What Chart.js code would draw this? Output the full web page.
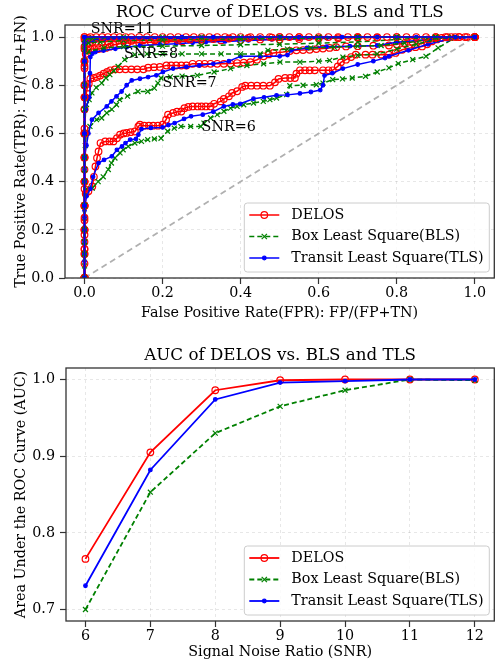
<!DOCTYPE html>
<html>
<head>
<meta charset="utf-8">
<script src="https://cdn.jsdelivr.net/npm/chart.js@4.4.1/dist/chart.umd.min.js"></script>
<style>
  body { margin: 0; background: #fff; }
  .box { position: absolute; left: 0; width: 499px; }
</style>
</head>
<body>
<div class="box" style="top:0;height:325px"><canvas id="roc"></canvas></div>
<div class="box" style="top:330px;height:332px"><canvas id="auc"></canvas></div>
<script>
// ---- ROC curves, [fpr, tpr] ----
const delos6 = [[0,0],[0,0.06],[0,0.12],[0,0.18],[0,0.24],[0,0.3],[0.003,0.35],[0.01,0.36],[0.02,0.38],[0.024,0.42],[0.028,0.463],[0.032,0.498],[0.036,0.525],[0.041,0.56],[0.053,0.567],[0.064,0.567],[0.074,0.567],[0.083,0.58],[0.091,0.595],[0.1,0.6],[0.108,0.602],[0.118,0.605],[0.129,0.608],[0.138,0.629],[0.142,0.636],[0.153,0.632],[0.165,0.632],[0.176,0.632],[0.188,0.632],[0.2,0.636],[0.209,0.657],[0.214,0.678],[0.227,0.685],[0.237,0.69],[0.248,0.691],[0.256,0.705],[0.266,0.71],[0.277,0.712],[0.29,0.712],[0.3,0.712],[0.311,0.712],[0.323,0.712],[0.332,0.723],[0.349,0.733],[0.357,0.743],[0.37,0.754],[0.378,0.768],[0.391,0.775],[0.404,0.793],[0.412,0.798],[0.427,0.798],[0.442,0.798],[0.458,0.798],[0.475,0.798],[0.488,0.812],[0.497,0.826],[0.514,0.83],[0.527,0.83],[0.539,0.83],[0.543,0.848],[0.552,0.862],[0.565,0.862],[0.577,0.862],[0.59,0.862],[0.611,0.862],[0.625,0.862],[0.636,0.862],[0.649,0.878],[0.657,0.895],[0.67,0.906],[0.683,0.917],[0.695,0.927],[0.72,0.927],[0.738,0.927],[0.76,0.927],[0.78,0.927],[0.797,0.934],[0.814,0.947],[0.831,0.954],[0.848,0.958],[0.865,0.961],[0.878,0.97],[0.89,0.982],[0.903,0.99],[0.915,0.996],[0.94,1],[0.96,1],[0.98,1],[1,1]];
const bls6 = [[0,0],[0,0.05],[0,0.1],[0,0.15],[0,0.2],[0,0.25],[0,0.3],[0.005,0.37],[0.02,0.373],[0.035,0.4],[0.048,0.42],[0.061,0.45],[0.069,0.477],[0.078,0.498],[0.091,0.519],[0.099,0.532],[0.112,0.546],[0.129,0.56],[0.146,0.567],[0.162,0.574],[0.179,0.577],[0.196,0.58],[0.213,0.609],[0.23,0.622],[0.247,0.629],[0.272,0.629],[0.298,0.629],[0.306,0.643],[0.323,0.664],[0.34,0.678],[0.357,0.692],[0.374,0.705],[0.391,0.712],[0.408,0.719],[0.433,0.726],[0.458,0.733],[0.475,0.74],[0.492,0.747],[0.518,0.761],[0.526,0.798],[0.56,0.8],[0.594,0.802],[0.611,0.809],[0.636,0.823],[0.661,0.826],[0.686,0.83],[0.72,0.837],[0.75,0.855],[0.78,0.872],[0.804,0.89],[0.841,0.906],[0.875,0.92],[0.906,0.955],[0.948,0.996],[1,1]];
const tls6 = [[0,0],[0,0.07],[0,0.14],[0,0.21],[0,0.28],[0.005,0.339],[0.015,0.37],[0.022,0.42],[0.036,0.477],[0.05,0.49],[0.07,0.505],[0.083,0.532],[0.096,0.546],[0.105,0.56],[0.117,0.574],[0.132,0.577],[0.138,0.595],[0.146,0.618],[0.17,0.623],[0.2,0.625],[0.215,0.635],[0.231,0.643],[0.255,0.66],[0.273,0.671],[0.303,0.678],[0.33,0.69],[0.357,0.712],[0.38,0.72],[0.399,0.723],[0.433,0.744],[0.46,0.75],[0.492,0.758],[0.52,0.76],[0.552,0.766],[0.58,0.772],[0.604,0.78],[0.611,0.8],[0.615,0.84],[0.635,0.85],[0.662,0.869],[0.7,0.886],[0.74,0.9],[0.77,0.913],[0.78,0.92],[0.83,0.945],[0.88,0.97],[0.93,0.99],[1,1]];

const delos7 = [[0,0],[0,0.1],[0,0.2],[0,0.3],[0,0.4],[0,0.5],[0,0.6],[0,0.7],[0.003,0.75],[0.007,0.79],[0.011,0.806],[0.015,0.827],[0.024,0.83],[0.032,0.834],[0.04,0.84],[0.049,0.848],[0.058,0.855],[0.066,0.862],[0.078,0.866],[0.09,0.866],[0.105,0.866],[0.12,0.866],[0.135,0.866],[0.151,0.866],[0.163,0.873],[0.178,0.875],[0.193,0.876],[0.21,0.882],[0.222,0.882],[0.235,0.882],[0.248,0.882],[0.261,0.882],[0.277,0.889],[0.294,0.889],[0.308,0.889],[0.323,0.889],[0.34,0.889],[0.357,0.889],[0.374,0.89],[0.391,0.892],[0.408,0.894],[0.425,0.896],[0.442,0.906],[0.459,0.92],[0.472,0.928],[0.484,0.934],[0.509,0.938],[0.526,0.942],[0.543,0.945],[0.56,0.946],[0.577,0.947],[0.594,0.95],[0.611,0.952],[0.628,0.955],[0.645,0.958],[0.67,0.961],[0.7,0.962],[0.74,0.964],[0.78,0.965],[0.8,0.97],[0.82,0.975],[0.84,0.98],[0.86,0.985],[0.88,0.99],[0.9,0.995],[0.93,1],[0.96,1],[1,1]];
const bls7 = [[0,0],[0,0.1],[0,0.2],[0,0.3],[0,0.4],[0,0.5],[0.002,0.55],[0.005,0.6],[0.014,0.629],[0.031,0.657],[0.044,0.664],[0.057,0.685],[0.07,0.7],[0.082,0.719],[0.09,0.74],[0.11,0.755],[0.137,0.774],[0.162,0.774],[0.179,0.788],[0.188,0.809],[0.196,0.83],[0.22,0.835],[0.25,0.838],[0.289,0.841],[0.332,0.855],[0.374,0.869],[0.416,0.882],[0.459,0.889],[0.501,0.896],[0.552,0.896],[0.6,0.9],[0.628,0.903],[0.662,0.917],[0.7,0.924],[0.75,0.93],[0.8,0.95],[0.85,0.97],[0.9,0.99],[0.95,1],[1,1]];
const tls7 = [[0,0],[0,0.1],[0,0.2],[0,0.3],[0,0.4],[0,0.5],[0.005,0.55],[0.01,0.6],[0.019,0.657],[0.036,0.685],[0.057,0.712],[0.069,0.733],[0.082,0.754],[0.095,0.774],[0.108,0.8],[0.121,0.82],[0.142,0.827],[0.163,0.834],[0.184,0.841],[0.201,0.855],[0.227,0.869],[0.261,0.876],[0.294,0.882],[0.33,0.889],[0.37,0.9],[0.4,0.92],[0.45,0.92],[0.5,0.92],[0.52,0.925],[0.53,0.945],[0.57,0.955],[0.62,0.96],[0.68,0.962],[0.75,0.965],[0.8,0.978],[0.88,0.99],[0.95,1],[1,1]];

const delos8 = [[0,0],[0,0.1],[0,0.2],[0,0.3],[0,0.4],[0,0.5],[0,0.6],[0,0.7],[0,0.8],[0,0.88],[0.003,0.93],[0.008,0.945],[0.015,0.95],[0.025,0.95],[0.035,0.95],[0.045,0.952],[0.055,0.955],[0.065,0.96],[0.075,0.968],[0.09,0.972],[0.11,0.975],[0.14,0.976],[0.17,0.978],[0.2,0.98],[0.25,0.982],[0.3,0.984],[0.35,0.986],[0.4,0.988],[0.45,0.99],[0.5,0.99],[0.55,0.992],[0.6,0.994],[0.65,0.995],[0.7,0.997],[0.75,0.998],[0.8,1],[0.9,1],[1,1]];
const bls8 = [[0,0],[0,0.1],[0,0.2],[0,0.3],[0,0.4],[0,0.5],[0,0.6],[0,0.7],[0.005,0.72],[0.012,0.74],[0.019,0.768],[0.03,0.79],[0.044,0.809],[0.055,0.83],[0.065,0.844],[0.075,0.86],[0.086,0.878],[0.103,0.906],[0.129,0.927],[0.16,0.93],[0.2,0.93],[0.25,0.93],[0.3,0.93],[0.35,0.93],[0.4,0.93],[0.45,0.93],[0.47,0.945],[0.52,0.95],[0.58,0.955],[0.64,0.958],[0.7,0.962],[0.76,0.965],[0.82,0.975],[0.88,0.99],[0.94,1],[1,1]];
const tls8 = [[0,0],[0,0.1],[0,0.2],[0,0.3],[0,0.4],[0,0.5],[0,0.6],[0.003,0.7],[0.012,0.75],[0.014,0.85],[0.015,0.917],[0.02,0.931],[0.028,0.938],[0.049,0.944],[0.079,0.951],[0.108,0.958],[0.142,0.965],[0.193,0.969],[0.235,0.972],[0.277,0.976],[0.311,0.979],[0.36,0.982],[0.42,0.986],[0.48,0.99],[0.55,0.993],[0.62,0.996],[0.7,1],[0.85,1],[1,1]];

const delos9 = [[0,0],[0,0.15],[0,0.3],[0,0.45],[0,0.6],[0,0.75],[0,0.9],[0,0.96],[0.005,0.97],[0.012,0.975],[0.02,0.978],[0.03,0.98],[0.045,0.98],[0.06,0.982],[0.08,0.982],[0.1,0.984],[0.12,0.984],[0.15,0.986],[0.18,0.986],[0.21,0.988],[0.24,0.988],[0.27,0.99],[0.3,0.99],[0.33,0.992],[0.37,0.994],[0.42,0.996],[0.48,0.998],[0.55,1],[0.7,1],[1,1]];
const bls9 = [[0,0],[0,0.15],[0,0.3],[0,0.45],[0,0.6],[0,0.75],[0,0.9],[0.01,0.94],[0.05,0.955],[0.1,0.96],[0.2,0.962],[0.3,0.965],[0.4,0.968],[0.5,0.97],[0.6,0.975],[0.7,0.98],[0.8,0.99],[0.9,1],[1,1]];
const tls9 = [[0,0],[0,0.15],[0,0.3],[0,0.45],[0,0.6],[0,0.75],[0,0.9],[0,0.97],[0.01,0.98],[0.05,0.99],[0.15,0.993],[0.3,0.996],[0.45,0.998],[0.55,1],[0.8,1],[1,1]];

const delos10 = [[0,0],[0,0.2],[0,0.4],[0,0.6],[0,0.8],[0,0.95],[0,0.99],[0.01,0.995],[0.03,1],[0.06,1],[0.09,1],[0.12,1],[0.16,1],[0.2,1],[0.24,1],[0.28,1],[0.32,1],[0.36,1],[0.4,1],[0.45,1],[0.5,1],[0.55,1],[0.6,1],[0.65,1],[0.7,1],[0.75,1],[0.8,1],[0.85,1],[0.9,1],[0.95,1],[1,1]];
const bls10 = [[0,0],[0,0.15],[0,0.3],[0,0.45],[0,0.6],[0,0.75],[0,0.9],[0,0.96],[0.01,0.975],[0.04,0.98],[0.1,0.985],[0.2,0.988],[0.3,0.99],[0.4,0.992],[0.5,0.994],[0.6,0.996],[0.7,0.998],[0.8,1],[0.9,1],[1,1]];
const tls10 = [[0,0],[0,0.2],[0,0.4],[0,0.6],[0,0.8],[0,0.98],[0.02,0.99],[0.1,0.995],[0.25,1],[0.5,1],[0.75,1],[1,1]];

const delos11 = [[0,0],[0,0.25],[0,0.5],[0,0.75],[0,0.9],[0,1],[0.015,1],[0.045,1],[0.075,1],[0.105,1],[0.14,1],[0.18,1],[0.22,1],[0.26,1],[0.3,1],[0.34,1],[0.38,1],[0.425,1],[0.475,1],[0.525,1],[0.575,1],[0.625,1],[0.675,1],[0.725,1],[0.775,1],[0.825,1],[0.875,1],[0.925,1],[0.975,1],[1,1]];
const bls11 = [[0,0],[0,0.2],[0,0.4],[0,0.6],[0,0.8],[0,0.95],[0,1],[0.2,1],[0.4,1],[0.6,1],[0.8,1],[1,1]];
const tls11 = [[0,0],[0,0.25],[0,0.5],[0,0.75],[0,1],[0.25,1],[0.5,1],[0.75,1],[1,1]];

const delos12 = [[0,0],[0,0.12],[0,0.37],[0,0.62],[0,0.87],[0,1],[0.5,1],[1,1]];
const bls12 = [[0,0],[0,0.1],[0,0.3],[0,0.5],[0,0.7],[0,0.9],[0,0.99],[0.02,0.995],[0.1,1],[0.3,1],[0.5,1],[0.7,1],[0.9,1],[1,1]];
const tls12 = [[0,0],[0,0.3],[0,0.6],[0,0.9],[0,1],[0.33,1],[0.66,1],[1,1]];

const chanceLine = [[0,0],[1,1]];

// ---- AUC per SNR ----
const snrValues = [6, 7, 8, 9, 10, 11, 12];
const aucDelos = [0.766, 0.905, 0.986, 0.999, 1.000, 1.000, 1.000];
const aucBls   = [0.700, 0.853, 0.930, 0.965, 0.986, 1.000, 0.999];
const aucTls   = [0.731, 0.882, 0.974, 0.996, 0.998, 1.000, 1.000];

// ---- labels / ticks ----
const methodNames = ['DELOS', 'Box Least Square(BLS)', 'Transit Least Square(TLS)'];
const rocTicks = [0, 0.2, 0.4, 0.6, 0.8, 1.0];
const aucTicks = [0.7, 0.8, 0.9, 1.0];
const snrNotes = ['SNR=11', 'SNR=8', 'SNR=7', 'SNR=6'];
const snrNoteFpr = [0.016, 0.101, 0.2, 0.3];
const snrNoteTpr = [1.033, 0.927, 0.809, 0.625];

const methodStyle = [
  { color: '#ff0000', point: 'circle', radius: 3.3, fill: 'rgba(255,255,255,0)', dash: [] },
  { color: '#008000', point: 'crossRot', radius: 3.5, fill: '#008000', dash: [5, 3] },
  { color: '#0000ff', point: 'circle', radius: 1.8, fill: '#0000ff', dash: [] }
];

Chart.defaults.font.family = "'DejaVu Serif', serif";
Chart.defaults.color = '#000';
Chart.defaults.animation = false;

const FONT = 14.3;
const TITLE_FONT = 16.7;

function toPoints(list) {
  return list.map(p => ({ x: p[0], y: p[1] }));
}

function lineSet(data, m, i, width) {
  const st = methodStyle[m];
  return {
    data: data,
    showLine: true,
    fill: false,
    tension: 0,
    borderColor: st.color,
    borderWidth: width,
    borderDash: st.dash,
    pointStyle: st.point,
    pointRadius: st.radius,
    pointHoverRadius: st.radius,
    pointBackgroundColor: st.fill,
    pointBorderColor: st.color,
    pointBorderWidth: 1.2,
    order: -i
  };
}

function drawMarker(ctx, m, x, y) {
  const st = methodStyle[m];
  ctx.save();
  ctx.setLineDash([]);
  ctx.strokeStyle = st.color;
  ctx.fillStyle = st.fill;
  ctx.lineWidth = 1.2;
  if (st.point === 'crossRot') {
    const r = st.radius * 0.75;
    ctx.beginPath();
    ctx.moveTo(x - r, y - r); ctx.lineTo(x + r, y + r);
    ctx.moveTo(x + r, y - r); ctx.lineTo(x - r, y + r);
    ctx.stroke();
  } else {
    ctx.beginPath();
    ctx.arc(x, y, st.radius, 0, Math.PI * 2);
    ctx.fill();
    ctx.stroke();
  }
  ctx.restore();
}

function drawLegend(chart, lineWidth) {
  const ctx = chart.ctx, a = chart.chartArea;
  const w = 245, h = 69;
  const x = a.right - 5 - w, y = a.bottom - 6 - h;
  ctx.save();
  ctx.beginPath();
  ctx.roundRect(x, y, w, h, 3);
  ctx.fillStyle = 'rgba(255,255,255,0.8)';
  ctx.fill();
  ctx.strokeStyle = '#cccccc';
  ctx.lineWidth = 1;
  ctx.stroke();
  const rows = [12, 33.5, 55];
  methodNames.forEach((name, m) => {
    const cy = y + rows[m];
    const st = methodStyle[m];
    ctx.strokeStyle = st.color;
    ctx.lineWidth = lineWidth;
    ctx.setLineDash(st.dash);
    ctx.beginPath();
    ctx.moveTo(x + 5, cy);
    ctx.lineTo(x + 35, cy);
    ctx.stroke();
    drawMarker(ctx, m, x + 20, cy);
    ctx.fillStyle = '#000';
    ctx.font = FONT + "px 'DejaVu Serif'";
    ctx.textBaseline = 'middle';
    ctx.textAlign = 'left';
    ctx.fillText(name, x + 47, cy);
  });
  ctx.restore();
}

// frame, title over the plot area, legend
function decorations(title, titleY, lineWidth) {
  return {
    id: 'decorations',
    afterDraw(chart) {
      const ctx = chart.ctx, a = chart.chartArea;
      ctx.save();
      ctx.strokeStyle = '#333';
      ctx.lineWidth = 1.3;
      ctx.strokeRect(a.left, a.top, a.right - a.left, a.bottom - a.top);
      ctx.fillStyle = '#000';
      ctx.font = TITLE_FONT + "px 'DejaVu Serif'";
      ctx.textAlign = 'center';
      ctx.textBaseline = 'middle';
      ctx.fillText(title, (a.left + a.right) / 2, titleY);
      ctx.restore();
      drawLegend(chart, lineWidth);
    }
  };
}

const snrNotePlugin = {
  id: 'snrNotes',
  afterDatasetsDraw(chart) {
    const ctx = chart.ctx, xs = chart.scales.x, ys = chart.scales.y;
    ctx.save();
    ctx.fillStyle = '#000';
    ctx.font = FONT + "px 'DejaVu Serif'";
    ctx.textAlign = 'left';
    ctx.textBaseline = 'middle';
    snrNotes.forEach((t, i) => {
      ctx.fillText(t, xs.getPixelForValue(snrNoteFpr[i]), ys.getPixelForValue(snrNoteTpr[i]));
    });
    ctx.restore();
  }
};

function axis(min, max, ticks, fmt, title, size, isX, tickPad, titlePad) {
  return {
    type: 'linear',
    min: min,
    max: max,
    afterBuildTicks: s => { s.ticks = ticks.map(v => ({ value: v })); },
    afterFit: s => { if (isX) s.height = size; else s.width = size; },
    ticks: { callback: fmt, font: { size: FONT }, padding: tickPad, autoSkip: false, maxRotation: 0 },
    grid: { color: 'rgba(0,0,0,0.12)', lineWidth: 0.8, tickColor: '#333', tickLength: 6, tickWidth: 1.2 },
    border: { display: false, dash: [3, 3] },
    title: { display: true, text: title, font: { size: FONT }, padding: titlePad }
  };
}

// ---- ROC chart ----
const rocGroups = [
  [delos6, bls6, tls6],
  [delos7, bls7, tls7],
  [delos8, bls8, tls8],
  [delos9, bls9, tls9],
  [delos10, bls10, tls10],
  [delos11, bls11, tls11],
  [delos12, bls12, tls12]
];

const rocSets = [{
  data: toPoints(chanceLine), showLine: true, borderColor: '#b0b0b0', borderWidth: 1.8,
  borderDash: [6, 4], pointRadius: 0, order: 10
}];
let n = 0;
rocGroups.forEach(group => {
  group.forEach((curve, m) => {
    rocSets.push(lineSet(toPoints(curve), m, n, 1.5));
    n++;
  });
});

new Chart(document.getElementById('roc'), {
  type: 'scatter',
  data: { datasets: rocSets },
  options: {
    responsive: true,
    maintainAspectRatio: false,
    layout: { padding: { left: 0, right: 1, top: 25, bottom: 0 } },
    plugins: {
      legend: { display: false },
      tooltip: { enabled: false },
      title: { display: false }
    },
    scales: {
      x: axis(-0.05, 1.05, rocTicks, v => v.toFixed(1), 'False Positive Rate(FPR): FP/(FP+TN)', 47, true, 1, 3.4),
      y: axis(0, 1.05, rocTicks, v => v.toFixed(1), 'True Positive Rate(TPR): TP/(TP+FN)', 65, false, 5, 13)
    }
  },
  plugins: [snrNotePlugin, decorations('ROC Curve of DELOS vs. BLS and TLS', 12.5, 1.5)]
});

// ---- AUC chart ----
const aucSets = [
  lineSet(snrValues.map((s, i) => ({ x: s, y: aucDelos[i] })), 0, 0, 1.8),
  lineSet(snrValues.map((s, i) => ({ x: s, y: aucBls[i] })), 1, 1, 1.8),
  lineSet(snrValues.map((s, i) => ({ x: s, y: aucTls[i] })), 2, 2, 1.8)
];

new Chart(document.getElementById('auc'), {
  type: 'scatter',
  data: { datasets: aucSets },
  options: {
    responsive: true,
    maintainAspectRatio: false,
    layout: { padding: { left: 0, right: 1, top: 38, bottom: 0 } },
    plugins: {
      legend: { display: false },
      tooltip: { enabled: false },
      title: { display: false }
    },
    scales: {
      x: axis(5.7, 12.3, snrValues, v => String(v), 'Signal Noise Ratio (SNR)', 41, true, 1, 1.4),
      y: axis(0.685, 1.015, aucTicks, v => v.toFixed(1), 'Area Under the ROC Curve (AUC)', 66, false, 5, 13)
    }
  },
  plugins: [decorations('AUC of DELOS vs. BLS and TLS', 25.5, 1.8)]
});
</script>
</body>
</html>
